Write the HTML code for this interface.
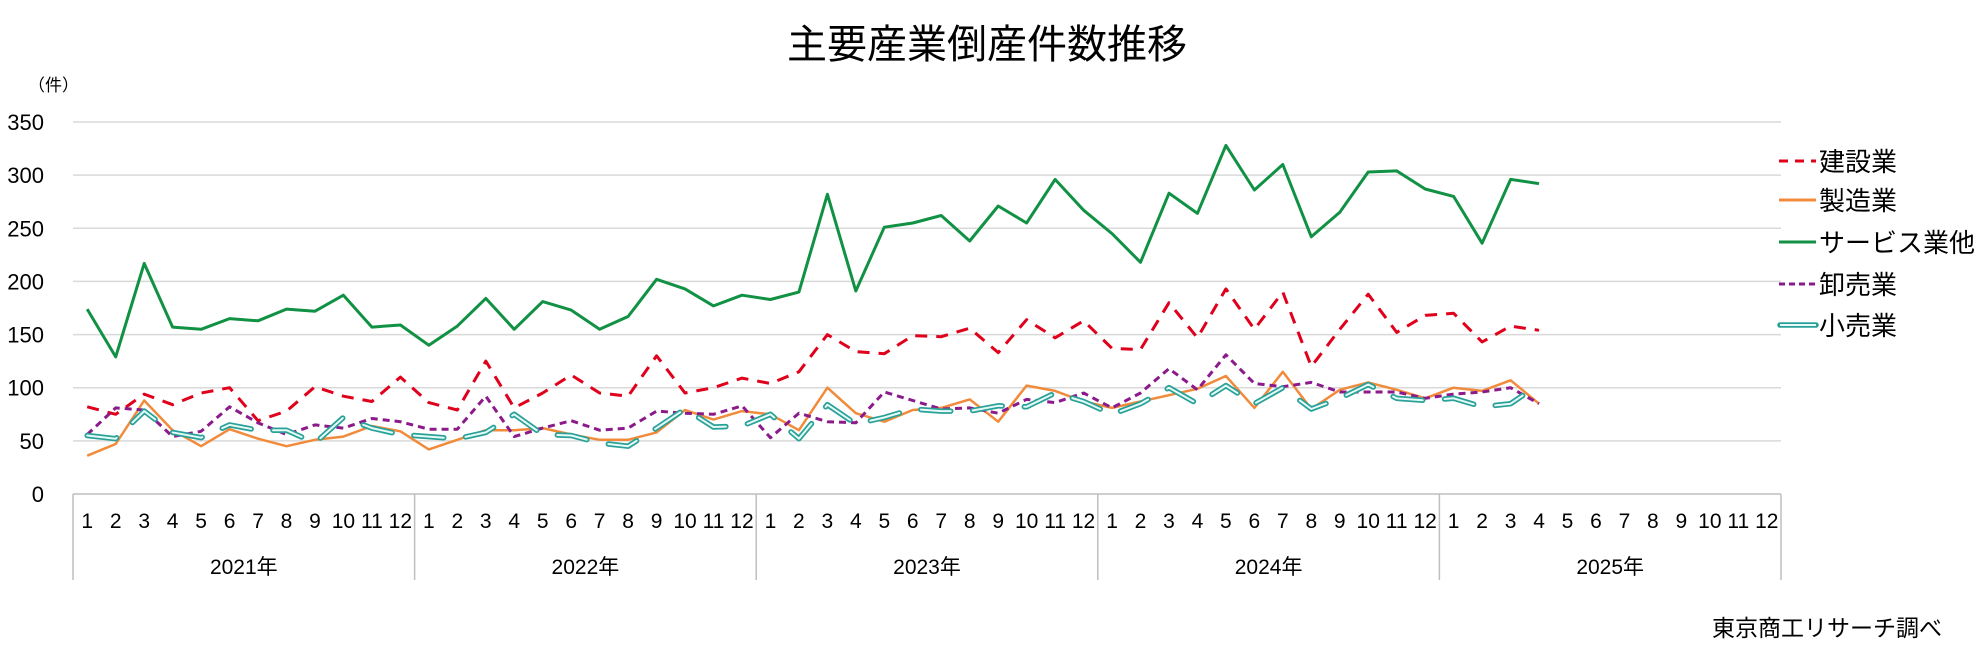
<!DOCTYPE html>
<html><head><meta charset="utf-8">
<style>
body{margin:0;background:#fff;}
svg{display:block;font-family:"Liberation Sans","Noto Sans CJK JP",sans-serif;}
</style></head>
<body>
<svg id="chart" width="1978" height="655" viewBox="0 0 1978 655">
<text x="987" y="58" font-size="40" text-anchor="middle" fill="#000">主要産業倒産件数推移</text>
<text x="28" y="91" font-size="17" fill="#000">（件）</text>
<g id="grid"></g>
<g id="yticks"></g>
<g id="xaxis"></g>
<g id="series"></g>
<g id="legend"></g>
<text x="1942" y="636" font-size="23" text-anchor="end" fill="#000">東京商工リサーチ調べ</text>
</svg>
<script>
const years = ["2021年","2022年","2023年","2024年","2025年"];
const monthLabels = ["1","2","3","4","5","6","7","8","9","10","11","12"];
const yTicks = [0,50,100,150,200,250,300,350];
const construction = [82,75,94,84,95,100,69,78,101,92,87,110, 86,79,125,81,95,112,95,92,130,95,100,109, 104,115,150,134,132,149,148,156,133,164,147,163, 137,136,180,147,193,155,190,120,155,188,152,168, 170,143,158,154];
const manufacturing = [36,47,88,60,45,61,52,45,51,54,64,59, 42,51,60,60,62,56,51,51,58,79,70,78, 75,60,100,76,68,79,81,89,68,102,97,87, 81,87,93,99,111,81,115,80,98,105,98,90, 100,97,107,85];
const service = [174,129,217,157,155,165,163,174,172,187,157,159, 140,158,184,155,181,173,155,167,202,193,177,187, 183,190,282,191,251,255,262,238,271,255,296,267, 245,218,283,264,328,286,310,242,265,303,304,287, 280,236,296,292];
const wholesale = [56,81,79,54,59,82,67,56,65,62,71,68, 61,61,92,54,62,69,60,62,78,76,75,83, 53,76,68,67,96,88,80,81,76,89,86,95, 81,95,118,98,131,104,101,105,96,96,96,90, 94,96,100,85];
const retail = [55,52,78,58,53,65,60,60,48,72,62,56, 54,52,58,75,56,55,48,45,62,80,63,64, 75,52,84,66,72,80,78,78,83,82,95,87, 75,85,100,85,102,85,100,80,90,103,90,88, 90,82,85,103];
const seriesNames = ["建設業","製造業","サービス業他","卸売業","小売業"];

const NS="http://www.w3.org/2000/svg";
const X0=73, X1=1781, Y0=494, Ymax=350, Ytop=122;
const nMonths = years.length*12;
const slot=(X1-X0)/nMonths;
const xs = i => X0 + slot*(i+0.5);
const ys = v => Y0 - (v/Ymax)*(Y0-Ytop);
function mk(tag, attrs, parent){const e=document.createElementNS(NS,tag);for(const k in attrs)e.setAttribute(k,attrs[k]);parent.appendChild(e);return e;}

const grid=document.getElementById('grid'), yt=document.getElementById('yticks');
yTicks.forEach(t=>{
  if(t>0){const l=mk('line',{x1:X0,x2:X1,y1:ys(t),y2:ys(t),stroke:'#d9d9d9','stroke-width':1.5},grid);
  
  }
  const tx=mk('text',{x:44,y:ys(t)+8,'font-size':22,'text-anchor':'end',fill:'#000'},yt);
  tx.textContent=t;
  
  
});

const xa=document.getElementById('xaxis');
const ax=mk('line',{x1:X0,x2:X1,y1:Y0,y2:Y0,stroke:'#bfbfbf','stroke-width':1.5},xa);


for(let y=0;y<=years.length;y++){
  const xx=X0+slot*12*y;
  const d=mk('line',{x1:xx,x2:xx,y1:Y0,y2:580,stroke:'#bfbfbf','stroke-width':1.5},xa);
  
  
}
years.forEach((yr,yi)=>{
  monthLabels.forEach((m,mi)=>{
    const t=mk('text',{x:xs(yi*12+mi),y:528,'font-size':21,'text-anchor':'middle',fill:'#000'},xa);
    t.textContent=m;
    
    
  });
  const t=mk('text',{x:X0+slot*(yi*12+6),y:574,'font-size':21,'text-anchor':'middle',fill:'#000'},xa);
  t.textContent=yr;
  
  
});

const sg=document.getElementById('series');
function pts(arr){return arr.map((v,i)=>xs(i).toFixed(1)+','+ys(v).toFixed(1)).join(' ');}
const styles=[
  {data:construction,stroke:'#e0001b',w:3,dash:'12 9',name:'construction-line'},
  {data:manufacturing,stroke:'#f18b3b',w:2.5,dash:'',name:'manufacturing-line'},
  {data:service,stroke:'#119144',w:3,dash:'',name:'service-line'},
  {data:wholesale,stroke:'#8b1a8b',w:3,dash:'7 5',name:'wholesale-line'}
];
function drawRetail(parent){
  const g=mk('g',{},parent);
  
  
  mk('polyline',{points:pts(retail),fill:'none',stroke:'#2aa198','stroke-width':5.5,'stroke-dasharray':'30 22','stroke-linejoin':'round','stroke-linecap':'round'},g);
  mk('polyline',{points:pts(retail),fill:'none',stroke:'#e6fbf8','stroke-width':2,'stroke-dasharray':'30 22','stroke-linejoin':'round','stroke-linecap':'round'},g);
}
styles.forEach(s=>{
  const p=mk('polyline',{points:pts(s.data),fill:'none',stroke:s.stroke,'stroke-width':s.w,'stroke-linejoin':'round'},sg);
  if(s.dash)p.setAttribute('stroke-dasharray',s.dash);
  
  
});
drawRetail(sg);

const lg=document.getElementById('legend');
const legY=[161,200,242,284,325];
const legStyles=[['#e0001b','9 7'],['#f18b3b',''],['#119144',''],['#8b1a8b','6 4'],['#2aa198','']];
seriesNames.forEach((n,i)=>{
  const g=mk('g',{},lg);
  
  
  if(i===4){
    mk('line',{x1:1780,x2:1816,y1:legY[i],y2:legY[i],stroke:'#2aa198','stroke-width':5.5,'stroke-linecap':'round'},g);
    mk('line',{x1:1780,x2:1816,y1:legY[i],y2:legY[i],stroke:'#e6fbf8','stroke-width':2},g);
  } else {
    const l=mk('line',{x1:1779,x2:1816,y1:legY[i],y2:legY[i],stroke:legStyles[i][0],'stroke-width':3},g);
    if(legStyles[i][1])l.setAttribute('stroke-dasharray',legStyles[i][1]);
  }
  const t=mk('text',{x:1819,y:legY[i]+10,'font-size':26,fill:'#000'},g);
  t.textContent=n;
});
</script>
</body></html>
